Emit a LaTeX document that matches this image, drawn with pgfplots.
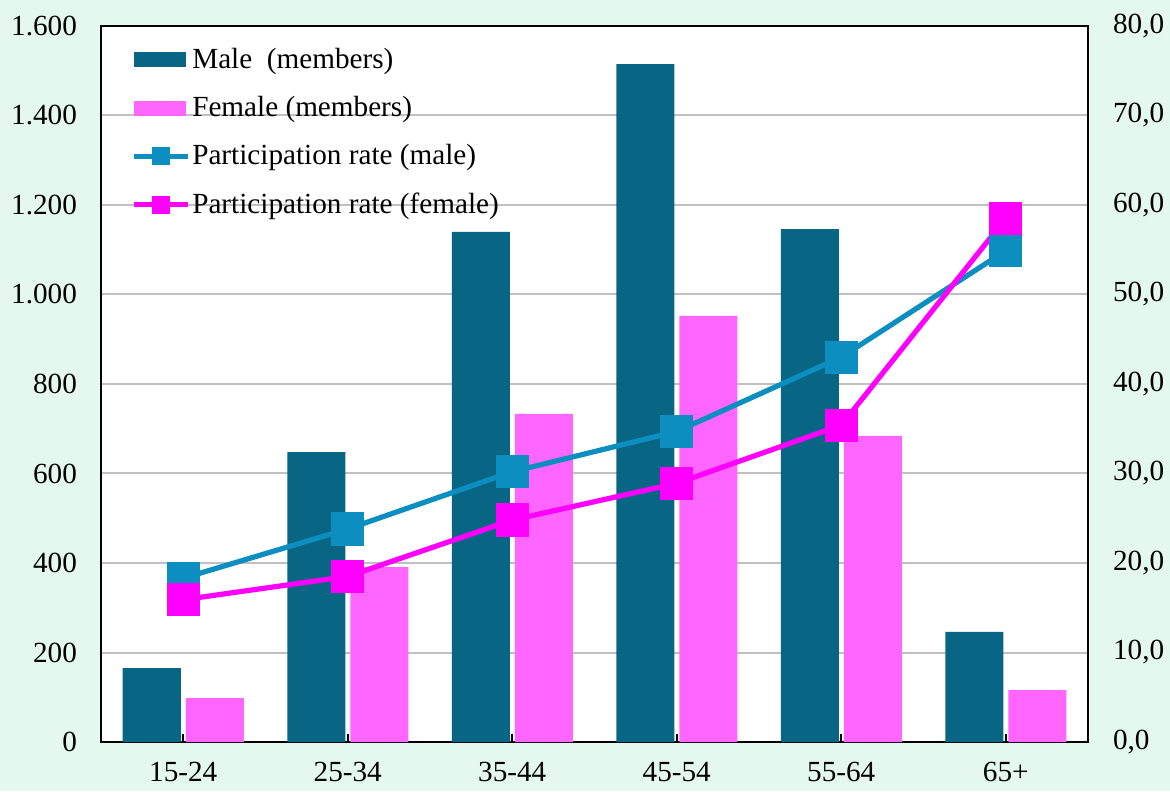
\documentclass[border=0pt]{standalone}
\usepackage{fontspec}
\setmainfont{Liberation Serif}
\usepackage{pgfplots}
\pgfplotsset{compat=1.18}

\definecolor{mint}{RGB}{228,248,240}
\definecolor{malebar}{RGB}{8,102,132}
\definecolor{femalebar}{RGB}{255,102,255}
\definecolor{malerate}{RGB}{12,142,192}
\definecolor{femalerate}{RGB}{255,0,255}
\definecolor{gridgray}{RGB}{192,192,192}

\newcommand{\chartfont}{\fontsize{14.6}{17.5}\selectfont}

\pgfplotsset{
  base/.style={
    at={(0,0)}, anchor=south west,
    scale only axis, width=493.5pt, height=358pt,
    xmin=-0.5, xmax=5.5,
    axis line style={line width=1pt, black},
    tick label style={font=\chartfont},
    /pgf/number format/assume math mode=true,
  },
  barimg/.style={legend image code/.code={
    \fill[#1] (0pt,-3.75pt) rectangle (26pt,3.75pt);}},
  lineimg/.style={legend image code/.code={
    \draw[#1, line width=2.6pt] (0pt,0pt) -- (27pt,0pt);
    \fill[#1] (9.25pt,-4.25pt) rectangle (17.75pt,4.25pt);}},
}

\begin{document}
\begin{tikzpicture}
\fill[mint] (-50.5pt,-24.5pt) rectangle (534.5pt,371pt);

% members per age group (left axis)
\begin{axis}[
  base,
  ymin=0, ymax=1600,
  axis background/.style={fill=white},
  xtick={0,...,5},
  xticklabels={15-24,25-34,35-44,45-54,55-64,65+},
  xticklabel style={yshift=-6.5pt},
  ytick={0,200,...,1600},
  scaled y ticks=false,
  yticklabel style={xshift=-8.5pt, /pgf/number format/1000 sep={.}},
  tick pos=left,
  tick align=inside,
  ytick style={draw=none},
  xtick style={line width=1pt, black},
  major tick length=4pt,
  ymajorgrids,
  grid style={draw=gridgray, line width=1pt},
  legend cell align=left,
  legend style={
    at={(0.024,0.978)}, anchor=north west,
    draw=none, fill=none, font=\chartfont,
    row sep=10.5pt,
    nodes={inner sep=1pt},
  },
]
\addplot[ybar, bar width=29pt, bar shift=-15.75pt, fill=malebar, draw=none,
  barimg=malebar]
  coordinates {(0,165) (1,648) (2,1140) (3,1515) (4,1146) (5,246)};
\addlegendentry{Male\ \ (members)}
\addplot[ybar, bar width=29pt, bar shift=15.75pt, fill=femalebar, draw=none,
  barimg=femalebar]
  coordinates {(0,98) (1,391) (2,733) (3,952) (4,684) (5,116)};
\addlegendentry{Female (members)}
\addlegendimage{lineimg=malerate}
\addlegendentry{Participation rate (male)}
\addlegendimage{lineimg=femalerate}
\addlegendentry{Participation rate (female)}
\end{axis}

% participation rates (right axis)
\begin{axis}[
  base,
  ymin=0, ymax=80,
  axis x line=none,
  axis y line*=right,
  ytick={0,10,...,80},
  ytick style={draw=none},
  yticklabel style={xshift=9pt,
    /pgf/number format/.cd, fixed, fixed zerofill, precision=1, use comma},
  clip=false,
]
\addplot[malerate, line width=2.6pt, mark=square*, mark size=7pt]
  coordinates {(0,18.3) (1,23.8) (2,30.2) (3,34.7) (4,43.0) (5,54.9)};
\addplot[femalerate, line width=2.6pt, mark=square*, mark size=7pt]
  coordinates {(0,15.9) (1,18.5) (2,24.8) (3,28.9) (4,35.4) (5,58.5)};
\end{axis}

\pgfresetboundingbox
\useasboundingbox (-50.5pt,-24.5pt) rectangle (534.5pt,371pt);
\end{tikzpicture}
\end{document}
